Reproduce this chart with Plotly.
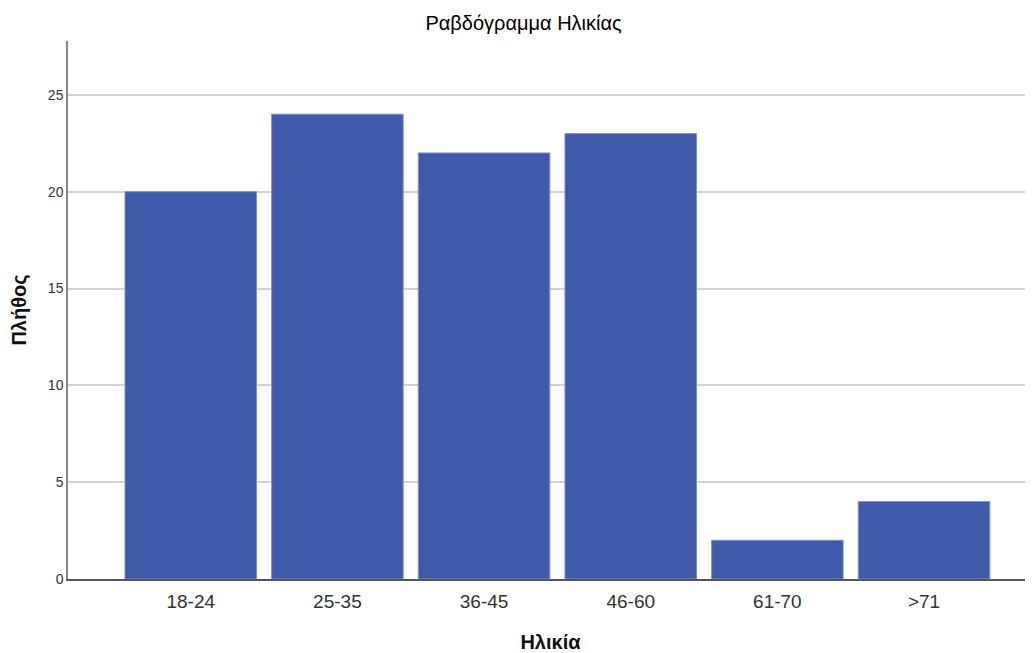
import plotly.graph_objects as go

categories = ["18-24", "25-35", "36-45", "46-60", "61-70", ">71"]
counts = [20, 24, 22, 23, 2, 4]
y_ticks = [0, 5, 10, 15, 20, 25]

fig = go.Figure(
    go.Bar(
        x=list(range(len(categories))),
        y=counts,
        marker=dict(color="#3F5AA8", line=dict(color="#7F92C8", width=1)),
        width=0.897,
    )
)

fig.update_layout(
    width=1025,
    height=645,
    margin=dict(l=60, r=0, t=33, b=73.5),
    paper_bgcolor="white",
    plot_bgcolor="white",
    font=dict(family="Liberation Sans, Arial, sans-serif", color="#222222"),
    title=dict(
        text="Ραβδόγραμμα Ηλικίας",
        x=0.503,
        xref="container",
        xanchor="center",
        y=0.977,
        yref="container",
        yanchor="middle",
        font=dict(size=20, color="#000000"),
    ),
    showlegend=False,
    bargap=0.1,
)

fig.update_xaxes(
    tickmode="array",
    tickvals=list(range(len(categories))),
    ticktext=categories,
    range=[-0.837, 5.743],
    showline=True,
    linecolor="#555555",
    linewidth=1.5,
    showgrid=False,
    ticks="outside",
    ticklen=4,
    tickcolor="rgba(0,0,0,0)",
    tickfont=dict(size=19, color="#333333"),
    title=dict(text="<b>Ηλικία</b>", font=dict(size=20, color="#111111"), standoff=24),
    zeroline=False,
)

fig.update_yaxes(
    range=[0, 27.78],
    tickmode="array",
    tickvals=y_ticks,
    showline=True,
    linecolor="#888888",
    linewidth=1.5,
    showgrid=True,
    gridcolor="#D3D3D3",
    gridwidth=1.5,
    ticks="",
    ticklen=0,
    tickfont=dict(size=14, color="#333333"),
    title=dict(text="<b>Πλήθος</b>", font=dict(size=20, color="#111111"), standoff=18),
    zeroline=False,
)

fig.write_html("out.html")
